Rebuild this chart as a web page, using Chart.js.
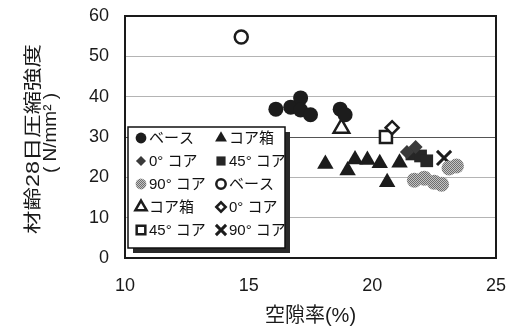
<!DOCTYPE html>
<html>
<head>
<meta charset="utf-8">
<script src="https://cdn.jsdelivr.net/npm/chart.js@4.4.1/dist/chart.umd.min.js"></script>
<style>
html, body { margin: 0; padding: 0; background: #fff; }
canvas { display: block; }
</style>
</head>
<body>
<canvas id="chart" width="509" height="328"></canvas>
<script>
// 空隙率(%) と 材齢28日圧縮強度 (N/mm2)
const baseX = [16.1, 16.7, 17.1, 17.1, 17.5, 18.7, 18.9];
const baseY = [36.9, 37.4, 39.7, 36.7, 35.5, 36.9, 35.5];
const boxX = [18.1, 19.0, 19.3, 19.8, 20.3, 20.6, 21.1];
const boxY = [23.3, 21.7, 24.4, 24.3, 23.5, 18.8, 23.6];
const core0X = [21.4, 21.75];
const core0Y = [26.3, 27.5];
const core45X = [21.6, 21.95, 22.2];
const core45Y = [25.8, 25.3, 24.1];
const core90X = [21.7, 22.1, 22.5, 22.8, 23.1, 23.4];
const core90Y = [19.3, 19.8, 18.8, 18.3, 22.3, 22.8];
const baseOpenX = [14.7];
const baseOpenY = [54.8];
const boxOpenX = [18.75];
const boxOpenY = [32.2];
const core0OpenX = [20.8];
const core0OpenY = [32.3];
const core45OpenX = [20.55];
const core45OpenY = [30.0];
const core90OpenX = [22.9];
const core90OpenY = [24.8];

const xTicks = [10, 15, 20, 25];
const yTicks = [0, 10, 20, 30, 40, 50, 60];

const xTitle = '空隙率(%)';
const yTitle = '材齢28日圧縮強度';
const yUnit = '( N/mm² )';

const FONT = '"Liberation Sans", "Noto Sans CJK JP", sans-serif';
Chart.defaults.font.family = FONT;
Chart.defaults.color = '#1a1a1a';

const pts = (xs, ys) => xs.map((x, i) => ({ x: x, y: ys[i] }));

// 90°コアの網点
function dotPattern() {
    const c = document.createElement('canvas');
    c.width = 2; c.height = 2;
    const g = c.getContext('2d');
    g.fillStyle = '#c4c4c4';
    g.fillRect(0, 0, 2, 2);
    g.fillStyle = '#6e6e6e';
    g.fillRect(0, 0, 1, 1);
    g.fillRect(1, 1, 1, 1);
    return g.createPattern(c, 'repeat');
}
const gray = dotPattern();

function series(label, xs, ys, style, r, fill, stroke, bw) {
    return {
        label: label,
        data: pts(xs, ys),
        pointStyle: style,
        pointRadius: r,
        pointHoverRadius: r,
        backgroundColor: fill,
        borderColor: stroke,
        borderWidth: bw,
        pointBorderWidth: bw,
        showLine: false
    };
}

const datasets = [
    series('ベース', baseX, baseY, 'circle', 7.5, '#1c1c1c', '#1c1c1c', 0),
    series('コア箱', boxX, boxY, 'triangle', 9.5, '#1c1c1c', '#1c1c1c', 0),
    series('0° コア', core0X, core0Y, 'rectRot', 7, '#3a3a3a', '#3a3a3a', 0),
    series('45° コア', core45X, core45Y, 'rect', 9, '#262626', '#262626', 0),
    series('90° コア', core90X, core90Y, 'circle', 7.5, gray, gray, 0),
    series('ベース', baseOpenX, baseOpenY, 'circle', 6.5, '#fff', '#1c1c1c', 2.5),
    series('コア箱', boxOpenX, boxOpenY, 'triangle', 9, '#fff', '#1c1c1c', 2.5),
    series('0° コア', core0OpenX, core0OpenY, 'rectRot', 6.5, '#fff', '#1c1c1c', 2.5),
    series('45° コア', core45OpenX, core45OpenY, 'rect', 8.5, '#fff', '#1c1c1c', 2.5),
    series('90° コア', core90OpenX, core90OpenY, 'crossRot', 10, '#1c1c1c', '#1c1c1c', 3)
];

const frame = {
    id: 'frame',
    beforeDatasetsDraw(chart) {
        const a = chart.chartArea, ctx = chart.ctx;
        ctx.save();
        ctx.strokeStyle = '#1a1a1a';
        ctx.lineWidth = 2;
        ctx.strokeRect(a.left, a.top, a.right - a.left, a.bottom - a.top);
        ctx.restore();
    }
};

const boxLegend = {
    id: 'boxLegend',
    afterDatasetsDraw(chart) {
        const ctx = chart.ctx, a = chart.chartArea;
        const L = a.left + 3, T = a.top + 111, W = 157, H = 121;
        ctx.save();
        ctx.fillStyle = '#2a2a2a';
        ctx.fillRect(L + 5, T + 5, W, H);
        ctx.fillStyle = '#fff';
        ctx.fillRect(L, T, W, H);
        ctx.strokeStyle = '#111';
        ctx.lineWidth = 1.5;
        ctx.strokeRect(L, T, W, H);
        chart.data.datasets.forEach((ds, i) => {
            const col = i % 2, row = Math.floor(i / 2);
            const mx = L + 13 + col * 80, my = T + 11 + row * 23;
            ctx.fillStyle = ds.backgroundColor;
            ctx.strokeStyle = ds.borderColor;
            ctx.lineWidth = ds.borderWidth;
            Chart.helpers.drawPoint(ctx, {
                pointStyle: ds.pointStyle,
                radius: ds.pointRadius * 0.72,
                rotation: 0,
                borderWidth: ds.borderWidth
            }, mx, my);
            ctx.fillStyle = '#111';
            ctx.font = '15px ' + FONT;
            ctx.textAlign = 'left';
            ctx.textBaseline = 'middle';
            ctx.fillText(ds.label, mx + 8, my + 1);
        });
        ctx.restore();
    }
};

const yTitlePlugin = {
    id: 'yTitlePlugin',
    afterDraw(chart) {
        const ctx = chart.ctx, a = chart.chartArea;
        const cy = (a.top + a.bottom) / 2;
        ctx.save();
        ctx.fillStyle = '#1a1a1a';
        ctx.textAlign = 'center';
        ctx.textBaseline = 'middle';
        ctx.translate(34, cy + 2);
        ctx.rotate(-Math.PI / 2);
        ctx.scale(1.3, 1);
        ctx.font = '18px ' + FONT;
        ctx.fillText(yTitle, 0, 0);
        ctx.restore();
        ctx.save();
        ctx.fillStyle = '#1a1a1a';
        ctx.textAlign = 'center';
        ctx.textBaseline = 'middle';
        ctx.translate(51, cy - 4);
        ctx.rotate(-Math.PI / 2);
        ctx.font = '19px ' + FONT;
        ctx.fillText(yUnit, 0, 0);
        ctx.restore();
    }
};

new Chart(document.getElementById('chart'), {
    type: 'scatter',
    data: { datasets: datasets },
    plugins: [frame, boxLegend, yTitlePlugin],
    options: {
        responsive: false,
        animation: false,
        layout: { padding: { top: 16, right: 10, left: 0, bottom: 0 } },
        plugins: {
            legend: { display: false },
            tooltip: { enabled: false }
        },
        scales: {
            x: {
                type: 'linear',
                min: 10,
                max: 25,
                afterBuildTicks: s => { s.ticks = xTicks.map(v => ({ value: v })); },
                afterFit: s => { s.height = 70; s.paddingLeft = 0; s.paddingRight = 0; },
                grid: { display: false, drawTicks: false },
                border: { display: false },
                ticks: { padding: 17, font: { size: 18 }, color: '#1a1a1a' },
                title: {
                    display: true,
                    text: xTitle,
                    font: { size: 20 },
                    color: '#1a1a1a',
                    padding: { top: 0, bottom: 0 }
                }
            },
            y: {
                type: 'linear',
                min: 0,
                max: 60,
                afterBuildTicks: s => { s.ticks = yTicks.map(v => ({ value: v })); },
                afterFit: s => { s.width = 125; s.paddingTop = 0; s.paddingBottom = 0; },
                grid: {
                    drawTicks: false,
                    color: c => (c.tick && c.tick.value === 30) ? '#555' : '#b4b4b4',
                    lineWidth: 1
                },
                border: { display: false },
                ticks: { padding: 16, font: { size: 18 }, color: '#1a1a1a' }
            }
        }
    }
});
</script>
</body>
</html>
